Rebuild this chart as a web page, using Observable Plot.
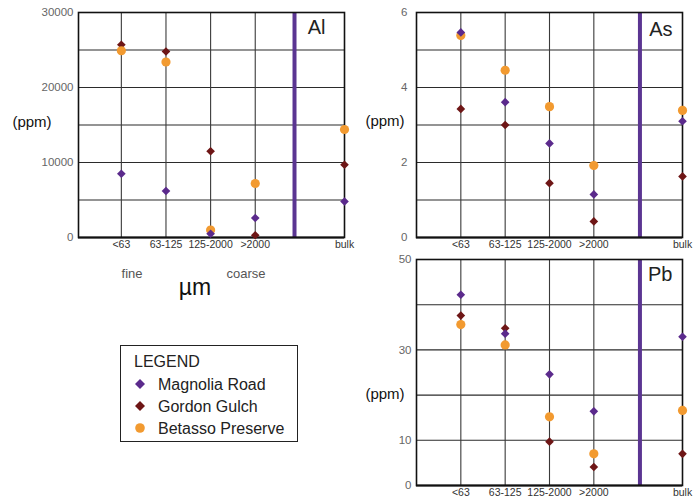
<!DOCTYPE html>
<html><head><meta charset="utf-8">
<script src="https://cdn.jsdelivr.net/npm/d3@7"></script>
<script src="https://cdn.jsdelivr.net/npm/@observablehq/plot@0.6"></script>
<style>
body{margin:0;background:#fff;font-family:"Liberation Sans",Arial,sans-serif;}
#wrap{position:relative;width:700px;height:498px;overflow:hidden;background:#fff;}
.abs{position:absolute;white-space:nowrap;}
.c{transform:translate(-50%,-50%);}
.ppm{font-size:15px;color:#111;}
.lg{position:absolute;left:120px;top:345px;width:178px;height:97px;border:1.6px solid #222;box-sizing:border-box;}
.lgrow{position:absolute;left:0;font-size:16px;color:#222;}
</style></head><body><div id="wrap"></div>
<script>
// ---- data ----
const sizes = ["<63", "63-125", "125-2000", ">2000", "bulk"];
const sites = ["Magnolia Road", "Gordon Gulch", "Betasso Preserve"];
const siteColors = ["#5b2a8c", "#6e1616", "#f29a30"];
const siteSymbols = ["diamond2", "diamond2", "circle"];

const alMagnolia = [8500, 6200, 500, 2600, 4800];
const alGordon   = [25700, 24800, 11500, 300, 9700];
const alBetasso  = [24900, 23400, 1000, 7200, 14400];

const asMagnolia = [5.47, 3.61, 2.51, 1.15, 3.10];
const asGordon   = [3.43, 3.00, 1.45, 0.43, 1.63];
const asBetasso  = [5.39, 4.46, 3.49, 1.92, 3.39];

const pbMagnolia = [42.2, 33.6, 24.6, 16.4, 32.9];
const pbGordon   = [37.6, 34.8, 9.7, 4.1, 7.0];
const pbBetasso  = [35.6, 31.1, 15.2, 7.0, 16.6];

const alTicks = [0, 10000, 20000, 30000];
const asTicks = [0, 2, 4, 6];
const pbTicks = [0, 10, 30, 50];

// ---- layout ----
const slot = [1, 2, 3, 4, 6];           // x slot of each size class (bulk separated)
const font = "Liberation Sans, Arial, sans-serif";

function panel(cfg) {
  const series = [
    {v: cfg.gordon, s: 1},
    {v: cfg.betasso, s: 2},
    {v: cfg.magnolia, s: 0}
  ];
  const dotMarks = series.map(({v, s}) =>
    Plot.dot(v, {
      x: (d, i) => slot[i], y: d => d,
      symbol: siteSymbols[s], fill: siteColors[s],
      r: siteSymbols[s] === "circle" ? 4.6 : 3.9
    })
  );
  const el = Plot.plot({
    width: cfg.width, height: cfg.height,
    marginLeft: cfg.ml, marginRight: cfg.mr, marginTop: cfg.mt, marginBottom: cfg.mb,
    style: {fontFamily: font, background: "transparent", overflow: "visible"},
    x: {type: "linear", domain: cfg.xdomain, axis: null},
    y: {domain: [0, cfg.ymax], axis: null},
    marks: [
      Plot.ruleY(cfg.grid, {stroke: "#2b2b2b", strokeWidth: 1.1}),
      Plot.ruleX(slot.slice(0, 4), {stroke: "#3a3a3a", strokeWidth: 1.1}),
      Plot.ruleX([cfg.divider], {stroke: "#5b3592", strokeWidth: 4}),
      Plot.frame({stroke: "#111", strokeWidth: 1.6}),
      Plot.ruleY([0], {stroke: "#111", strokeWidth: 2.2}),
      Plot.axisX({ticks: slot, tickFormat: d => sizes[slot.indexOf(d)], tickSize: 0,
        tickPadding: 3, fontSize: 10.5, color: "#333"}),
      Plot.axisY({ticks: cfg.ticks, tickFormat: d => String(d), tickSize: 0,
        tickPadding: cfg.ypad, fontSize: 11.5, color: "#666"}),
      ...dotMarks,
      Plot.text([cfg.label], {text: d => d, frameAnchor: "top-right", dx: cfg.ldx, dy: cfg.ldy,
        lineAnchor: "top", fontSize: 20, fill: "#222"})
    ]
  });
  el.style.position = "absolute";
  el.style.left = cfg.left + "px";
  el.style.top = cfg.top + "px";
  return el;
}

const wrap = document.getElementById("wrap");

wrap.appendChild(panel({
  left: 0, top: 0, width: 360, height: 260, ml: 78, mr: 16, mt: 12, mb: 23,
  xdomain: [0.04, 6], ymax: 30000, ticks: alTicks, grid: d3.range(5000, 30000, 5000),
  divider: 4.88, label: "Al", ldx: -19, ldy: 7, ypad: 5,
  magnolia: alMagnolia, gordon: alGordon, betasso: alBetasso
}));
wrap.appendChild(panel({
  left: 360, top: 0, width: 340, height: 255, ml: 56, mr: 18, mt: 12, mb: 18,
  xdomain: [0, 6], ymax: 6, ticks: asTicks, grid: d3.range(1, 6, 1),
  divider: 5.04, label: "As", ldx: -10, ldy: 9, ypad: 9,
  magnolia: asMagnolia, gordon: asGordon, betasso: asBetasso
}));
wrap.appendChild(panel({
  left: 360, top: 250, width: 340, height: 248, ml: 56, mr: 18, mt: 9, mb: 13,
  xdomain: [0, 6], ymax: 50, ticks: pbTicks, grid: d3.range(10, 50, 10),
  divider: 5.04, label: "Pb", ldx: -10, ldy: 7, ypad: 5,
  magnolia: pbMagnolia, gordon: pbGordon, betasso: pbBetasso
}));

// ---- HTML text ----
function addText(txt, x, y, cls, style) {
  const d = document.createElement("div");
  d.className = "abs c " + (cls || "");
  d.textContent = txt;
  d.style.left = x + "px"; d.style.top = y + "px";
  Object.assign(d.style, style || {});
  wrap.appendChild(d);
}
addText("(ppm)", 32, 121, "ppm");
addText("(ppm)", 385, 120, "ppm");
addText("(ppm)", 385, 393, "ppm");
addText("fine", 132, 273, "", {fontSize: "13px", color: "#555"});
addText("coarse", 246, 273, "", {fontSize: "13px", color: "#555"});
addText("µm", 195, 287, "", {fontSize: "23px", color: "#111"});

// ---- legend ----
const lg = document.createElement("div");
lg.className = "lg";
wrap.appendChild(lg);
const title = document.createElement("div");
title.className = "lgrow";
title.style.left = "13px"; title.style.top = "7px";
title.textContent = "LEGEND";
lg.appendChild(title);
sites.forEach((s, i) => {
  const row = document.createElement("div");
  row.className = "lgrow";
  row.style.top = (29 + i * 22) + "px";
  row.style.left = "11px";
  const sym = siteSymbols[i] === "circle"
    ? `<circle cx="8" cy="9" r="4.8" fill="${siteColors[i]}"/>`
    : `<path d="M8 4 L13 9 L8 14 L3 9Z" fill="${siteColors[i]}"/>`;
  row.innerHTML = `<svg width="18" height="18" style="vertical-align:-3px">${sym}</svg><span style="margin-left:8px">${s}</span>`;
  lg.appendChild(row);
});
</script>
</body></html>
